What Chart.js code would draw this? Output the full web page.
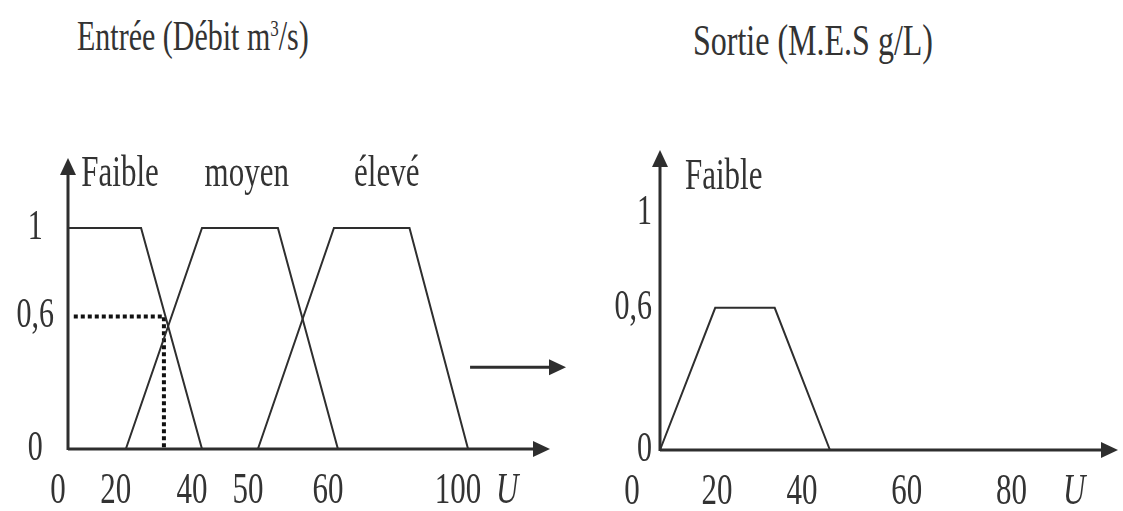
<!DOCTYPE html>
<html>
<head>
<meta charset="utf-8">
<script src="https://cdn.jsdelivr.net/npm/chart.js@4/dist/chart.umd.min.js"></script>
<style>
  body { margin: 0; background: #fff; width: 1123px; height: 511px; overflow: hidden; position: relative; }
  canvas { position: absolute; top: 0; }
  .titre { position: absolute; font-family: 'Liberation Serif', serif; color: #333; line-height: 30px; white-space: nowrap;
           transform: scaleY(1.4); transform-origin: left center; }
  .titre sup { font-size: 17px; vertical-align: 10px; line-height: 0; }
</style>
</head>
<body>
<div class="titre" style="left:77px;top:21px;font-size:30px">Entrée (Débit m<sup>3</sup>/s)</div>
<div class="titre" style="left:693px;top:25px;font-size:32px">Sortie (M.E.S g/L)</div>
<canvas id="entreeChart" width="570" height="511" style="left:0"></canvas>
<canvas id="sortieChart" width="553" height="511" style="left:570px"></canvas>
<script>
// Entrée : fonctions d'appartenance (U -> degré)
const faibleU = [0, 24, 40];
const faibleMu = [1, 1, 0];
const moyenU = [20, 40, 52.5, 60];
const moyenMu = [0, 1, 1, 0];
const eleveU = [50, 59.5, 82, 100];
const eleveMu = [0, 1, 1, 0];
// lecture pointillée (débit 30 -> 0,6)
const coupeU = [2, 30, 30];
const coupeMu = [0.6, 0.6, 0];
const entreeNoms = ['Faible', 'moyen', 'élevé'];
const entreeNomsU = [18, 48, 75];
const entreeTicksX = [0, 20, 40, 50, 60, 100, 112];
const entreeLabelsX = ['0', '20', '40', '50', '60', '100', 'U'];

// Sortie : Faible tronqué à 0,6
const sortieU = [0, 13, 27, 40];
const sortieMu = [0, 0.6, 0.6, 0];
const sortieNoms = ['Faible'];
const sortieNomsU = [15];
const sortieTicksX = [0, 20, 40, 60, 80, 92];
const sortieLabelsX = ['0', '20', '40', '60', '80', 'U'];

const ticksY = [0, 0.6, 1];
const labelsY = ['0', '0,6', '1'];

const INK = '#2e2e2e';
const SERIF = "'Liberation Serif', 'Times New Roman', serif";
const ETIRE = 1.4; // le texte du schéma est étiré verticalement

Chart.defaults.font.family = SERIF;
Chart.defaults.color = '#333';

// étiquettes de graduation étirées verticalement autour de leur centre
function drawLabelsEtire(chartArea) {
    const ctx = this.ctx;
    this.getLabelItems(chartArea).forEach(function(item) {
        const o = item.options;
        ctx.save();
        ctx.translate(o.translation[0], o.translation[1] + item.textOffset);
        ctx.scale(1, ETIRE);
        ctx.font = item.font.string;
        ctx.fillStyle = o.color;
        ctx.textAlign = o.textAlign;
        ctx.textBaseline = 'middle';
        ctx.fillText(item.label, 0, 0);
        ctx.restore();
    });
}

// échelle linéaire par morceaux (axe du schéma non proportionnel)
class WarpScale extends Chart.LinearScale {
    decimalFor(value) {
        const u = this.options.stopU, f = this.options.stopF;
        if (value <= u[0]) return f[0];
        for (let i = 1; i < u.length; i++) {
            if (value <= u[i]) {
                return f[i - 1] + (value - u[i - 1]) / (u[i] - u[i - 1]) * (f[i] - f[i - 1]);
            }
        }
        return f[f.length - 1];
    }
    getPixelForValue(value) {
        return this.getPixelForDecimal(this.decimalFor(value));
    }
    getValueForPixel(pixel) {
        const d = this.getDecimalForPixel(pixel);
        const u = this.options.stopU, f = this.options.stopF;
        for (let i = 1; i < f.length; i++) {
            if (d <= f[i]) return u[i - 1] + (d - f[i - 1]) / (f[i] - f[i - 1]) * (u[i] - u[i - 1]);
        }
        return u[u.length - 1];
    }
}
WarpScale.prototype.drawLabels = drawLabelsEtire;
WarpScale.id = 'warp';
WarpScale.defaults = Chart.LinearScale.defaults;

class DegreScale extends Chart.LinearScale {}
DegreScale.prototype.drawLabels = drawLabelsEtire;
DegreScale.id = 'degre';
DegreScale.defaults = Chart.LinearScale.defaults;

Chart.register(WarpScale, DegreScale);

function pts(xs, ys) {
    return xs.map(function(x, i) { return {x: x, y: ys[i]}; });
}

function serie(xs, ys, extra) {
    return Object.assign({
        data: pts(xs, ys),
        borderColor: INK,
        borderWidth: 2,
        pointRadius: 0,
        tension: 0,
        fill: false,
        clip: false
    }, extra || {});
}

function fleche(ctx, x, y, dx, dy) {
    // pointe de flèche en (x, y), direction (dx, dy)
    const L = 17, W = 8;
    ctx.beginPath();
    ctx.moveTo(x, y);
    ctx.lineTo(x - dx * L - dy * W, y - dy * L + dx * W);
    ctx.lineTo(x - dx * L + dy * W, y - dy * L - dx * W);
    ctx.closePath();
    ctx.fill();
}

const axesPlugin = {
    id: 'axesFleches',
    beforeDatasetsDraw: function(chart) {
        const ctx = chart.ctx, a = chart.chartArea;
        ctx.save();
        ctx.strokeStyle = INK;
        ctx.fillStyle = INK;
        ctx.lineWidth = 3;
        ctx.beginPath();
        ctx.moveTo(a.left, a.bottom);
        ctx.lineTo(a.right - 10, a.bottom);
        ctx.moveTo(a.left, a.bottom + 1);
        ctx.lineTo(a.left, a.top + 10);
        ctx.stroke();
        fleche(ctx, a.right, a.bottom, 1, 0);
        fleche(ctx, a.left, a.top, 0, -1);
        ctx.restore();
    },
    afterDatasetsDraw: function(chart, args, opts) {
        const ctx = chart.ctx;
        const xs = chart.scales.x, ys = chart.scales.y;
        ctx.save();
        ctx.fillStyle = '#333';
        ctx.font = '31px ' + SERIF;
        ctx.textAlign = 'center';
        ctx.textBaseline = 'middle';
        (opts.noms || []).forEach(function(n, i) {
            ctx.save();
            ctx.translate(xs.getPixelForValue(opts.nomsU[i]), ys.getPixelForValue(opts.nomsY));
            ctx.scale(1, ETIRE);
            ctx.fillText(n, 0, 0);
            ctx.restore();
        });
        if (opts.sortie) {
            // flèche entrée -> sortie
            const y = ys.getPixelForValue(0.37);
            const x0 = xs.getPixelForValue(100) + 2, x1 = chart.width - 4;
            ctx.strokeStyle = INK;
            ctx.fillStyle = INK;
            ctx.lineWidth = 3;
            ctx.beginPath();
            ctx.moveTo(x0, y);
            ctx.lineTo(x1 - 10, y);
            ctx.stroke();
            fleche(ctx, x1, y, 1, 0);
        }
        ctx.restore();
    }
};

function optionsSchema(cfg) {
    return {
        responsive: false,
        devicePixelRatio: 1,
        animation: false,
        events: [],
        layout: { padding: cfg.padding },
        plugins: {
            legend: { display: false },
            tooltip: { enabled: false },
            axesFleches: cfg.plugin
        },
        scales: {
            x: {
                type: 'warp',
                min: 0,
                max: cfg.xMax,
                stopU: cfg.stopU,
                stopF: cfg.stopF,
                grid: { display: false, drawTicks: false },
                border: { display: false },
                afterBuildTicks: function(scale) {
                    scale.ticks = cfg.ticksX.map(function(v) { return {value: v}; });
                },
                afterFit: function(scale) {
                    scale.height = cfg.xHeight;
                    scale.paddingLeft = 0;
                    scale.paddingRight = 0;
                },
                ticks: {
                    autoSkip: false,
                    maxRotation: 0,
                    padding: 24,
                    labelOffset: cfg.labelOffset,
                    color: '#333',
                    font: function(c) {
                        const italic = c.tick && c.index === cfg.ticksX.length - 1;
                        return { family: SERIF, size: 31, style: italic ? 'italic' : 'normal' };
                    },
                    callback: function(v, i) { return cfg.labelsX[i]; }
                }
            },
            y: {
                type: 'degre',
                min: 0,
                max: cfg.yMax,
                grid: { display: false, drawTicks: false },
                border: { display: false },
                afterBuildTicks: function(scale) {
                    scale.ticks = ticksY.map(function(v) { return {value: v}; });
                },
                afterFit: function(scale) { scale.width = cfg.yWidth; },
                ticks: {
                    autoSkip: false,
                    padding: cfg.yPad,
                    crossAlign: cfg.yAlign,
                    color: '#333',
                    font: { family: SERIF, size: 30 },
                    callback: function(v, i) { return labelsY[i]; }
                }
            }
        }
    };
}

new Chart(document.getElementById('entreeChart').getContext('2d'), {
    type: 'line',
    data: {
        datasets: [
            serie(faibleU, faibleMu),
            serie(moyenU, moyenMu),
            serie(eleveU, eleveMu),
            serie(coupeU, coupeMu, { borderWidth: 4, borderDash: [4, 3], borderColor: '#111' })
        ]
    },
    options: optionsSchema({
        padding: { left: 0, top: 158, right: 20, bottom: 0 },
        xMax: 120,
        stopU: [0, 20, 40, 50, 60, 100, 120],
        stopF: [0, 0.120, 0.278, 0.394, 0.560, 0.830, 1],
        ticksX: entreeTicksX,
        labelsX: entreeLabelsX,
        labelOffset: -10,
        xHeight: 62,
        yMax: 1.317,
        yWidth: 68,
        yPad: 14,
        yAlign: 'center',
        plugin: { noms: entreeNoms, nomsU: entreeNomsU, nomsY: 1.24, sortie: true }
    }),
    plugins: [axesPlugin]
});

new Chart(document.getElementById('sortieChart').getContext('2d'), {
    type: 'line',
    data: {
        datasets: [ serie(sortieU, sortieMu) ]
    },
    options: optionsSchema({
        padding: { left: 0, top: 150, right: 5, bottom: 0 },
        xMax: 95,
        stopU: [0, 40, 95],
        stopF: [0, 0.371, 1],
        ticksX: sortieTicksX,
        labelsX: sortieLabelsX,
        labelOffset: -28,
        xHeight: 61,
        yMax: 1.266,
        yWidth: 90,
        yPad: 8,
        yAlign: 'near',
        plugin: { noms: sortieNoms, nomsU: sortieNomsU, nomsY: 1.15, sortie: false }
    }),
    plugins: [axesPlugin]
});
</script>
</body>
</html>
